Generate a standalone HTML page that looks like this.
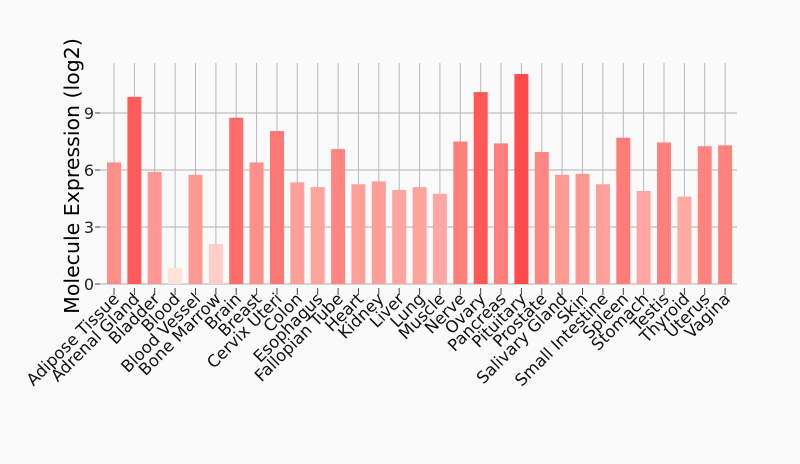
<!DOCTYPE html>
<html><head><meta charset="utf-8"><style>
html,body{margin:0;padding:0;background:#fafafa;}
svg{display:block;font-family:"DejaVu Sans","Liberation Sans",sans-serif;}
.tl{font-size:16px;fill:#222;text-anchor:end;}
.xl{font-size:16.5px;fill:#111;text-anchor:end;}
</style></head><body>
<svg width="800" height="464" viewBox="0 0 800 464" xmlns="http://www.w3.org/2000/svg">
<rect width="800" height="464" fill="#fafafa"/>
<g stroke="#b0b0b0" stroke-width="1">
<line x1="100" x2="737" y1="284" y2="284"/><line x1="100" x2="737" y1="227" y2="227"/><line x1="100" x2="737" y1="170" y2="170"/><line x1="100" x2="737" y1="113" y2="113"/>
</g>
<g stroke="#444" stroke-width="1">
<line x1="95" x2="100" y1="284" y2="284"/><line x1="95" x2="100" y1="227" y2="227"/><line x1="95" x2="100" y1="170" y2="170"/><line x1="95" x2="100" y1="113" y2="113"/>
</g>
<g stroke="#b8b8b8" stroke-width="1">
<line x1="114" x2="114" y1="63" y2="284"/><line x1="134.4" x2="134.4" y1="63" y2="284"/><line x1="154.7" x2="154.7" y1="63" y2="284"/><line x1="175.1" x2="175.1" y1="63" y2="284"/><line x1="195.5" x2="195.5" y1="63" y2="284"/><line x1="215.9" x2="215.9" y1="63" y2="284"/><line x1="236.2" x2="236.2" y1="63" y2="284"/><line x1="256.6" x2="256.6" y1="63" y2="284"/><line x1="277" x2="277" y1="63" y2="284"/><line x1="297.3" x2="297.3" y1="63" y2="284"/><line x1="317.7" x2="317.7" y1="63" y2="284"/><line x1="338.1" x2="338.1" y1="63" y2="284"/><line x1="358.4" x2="358.4" y1="63" y2="284"/><line x1="378.8" x2="378.8" y1="63" y2="284"/><line x1="399.2" x2="399.2" y1="63" y2="284"/><line x1="419.6" x2="419.6" y1="63" y2="284"/><line x1="439.9" x2="439.9" y1="63" y2="284"/><line x1="460.3" x2="460.3" y1="63" y2="284"/><line x1="480.7" x2="480.7" y1="63" y2="284"/><line x1="501" x2="501" y1="63" y2="284"/><line x1="521.4" x2="521.4" y1="63" y2="284"/><line x1="541.8" x2="541.8" y1="63" y2="284"/><line x1="562.1" x2="562.1" y1="63" y2="284"/><line x1="582.5" x2="582.5" y1="63" y2="284"/><line x1="602.9" x2="602.9" y1="63" y2="284"/><line x1="623.3" x2="623.3" y1="63" y2="284"/><line x1="643.6" x2="643.6" y1="63" y2="284"/><line x1="664" x2="664" y1="63" y2="284"/><line x1="684.4" x2="684.4" y1="63" y2="284"/><line x1="704.7" x2="704.7" y1="63" y2="284"/><line x1="725.1" x2="725.1" y1="63" y2="284"/>
</g>
<g stroke="#444" stroke-width="1">
<line x1="114" x2="114" y1="288" y2="295"/><line x1="134.4" x2="134.4" y1="288" y2="295"/><line x1="154.7" x2="154.7" y1="288" y2="295"/><line x1="175.1" x2="175.1" y1="288" y2="295"/><line x1="195.5" x2="195.5" y1="288" y2="295"/><line x1="215.9" x2="215.9" y1="288" y2="295"/><line x1="236.2" x2="236.2" y1="288" y2="295"/><line x1="256.6" x2="256.6" y1="288" y2="295"/><line x1="277" x2="277" y1="288" y2="295"/><line x1="297.3" x2="297.3" y1="288" y2="295"/><line x1="317.7" x2="317.7" y1="288" y2="295"/><line x1="338.1" x2="338.1" y1="288" y2="295"/><line x1="358.4" x2="358.4" y1="288" y2="295"/><line x1="378.8" x2="378.8" y1="288" y2="295"/><line x1="399.2" x2="399.2" y1="288" y2="295"/><line x1="419.6" x2="419.6" y1="288" y2="295"/><line x1="439.9" x2="439.9" y1="288" y2="295"/><line x1="460.3" x2="460.3" y1="288" y2="295"/><line x1="480.7" x2="480.7" y1="288" y2="295"/><line x1="501" x2="501" y1="288" y2="295"/><line x1="521.4" x2="521.4" y1="288" y2="295"/><line x1="541.8" x2="541.8" y1="288" y2="295"/><line x1="562.1" x2="562.1" y1="288" y2="295"/><line x1="582.5" x2="582.5" y1="288" y2="295"/><line x1="602.9" x2="602.9" y1="288" y2="295"/><line x1="623.3" x2="623.3" y1="288" y2="295"/><line x1="643.6" x2="643.6" y1="288" y2="295"/><line x1="664" x2="664" y1="288" y2="295"/><line x1="684.4" x2="684.4" y1="288" y2="295"/><line x1="704.7" x2="704.7" y1="288" y2="295"/><line x1="725.1" x2="725.1" y1="288" y2="295"/>
</g>
<rect x="107" y="162.4" width="14" height="121.6" fill="rgb(255,143,139)"/>
<rect x="127.4" y="96.85" width="14" height="187.15" fill="rgb(255,92,91)"/>
<rect x="147.7" y="171.9" width="14" height="112.1" fill="rgb(255,151,146)"/>
<rect x="168.1" y="267.85" width="14" height="16.15" fill="rgb(255,226,216)"/>
<rect x="188.5" y="174.75" width="14" height="109.25" fill="rgb(255,153,148)"/>
<rect x="208.9" y="244.1" width="14" height="39.9" fill="rgb(255,207,199)"/>
<rect x="229.2" y="117.75" width="14" height="166.25" fill="rgb(255,108,106)"/>
<rect x="249.6" y="162.4" width="14" height="121.6" fill="rgb(255,143,139)"/>
<rect x="270" y="131.05" width="14" height="152.95" fill="rgb(255,119,116)"/>
<rect x="290.3" y="182.35" width="14" height="101.65" fill="rgb(255,159,153)"/>
<rect x="310.7" y="187.1" width="14" height="96.9" fill="rgb(255,163,157)"/>
<rect x="331.1" y="149.1" width="14" height="134.9" fill="rgb(255,133,129)"/>
<rect x="351.4" y="184.25" width="14" height="99.75" fill="rgb(255,160,155)"/>
<rect x="371.8" y="181.4" width="14" height="102.6" fill="rgb(255,158,153)"/>
<rect x="392.2" y="189.95" width="14" height="94.05" fill="rgb(255,165,159)"/>
<rect x="412.6" y="187.1" width="14" height="96.9" fill="rgb(255,163,157)"/>
<rect x="432.9" y="193.75" width="14" height="90.25" fill="rgb(255,168,162)"/>
<rect x="453.3" y="141.5" width="14" height="142.5" fill="rgb(255,127,123)"/>
<rect x="473.7" y="92.1" width="14" height="191.9" fill="rgb(255,88,87)"/>
<rect x="494" y="143.4" width="14" height="140.6" fill="rgb(255,128,125)"/>
<rect x="514.4" y="74.05" width="14" height="209.95" fill="rgb(255,74,74)"/>
<rect x="534.8" y="151.95" width="14" height="132.05" fill="rgb(255,135,131)"/>
<rect x="555.1" y="174.75" width="14" height="109.25" fill="rgb(255,153,148)"/>
<rect x="575.5" y="173.8" width="14" height="110.2" fill="rgb(255,152,147)"/>
<rect x="595.9" y="184.25" width="14" height="99.75" fill="rgb(255,160,155)"/>
<rect x="616.3" y="137.7" width="14" height="146.3" fill="rgb(255,124,121)"/>
<rect x="636.6" y="190.9" width="14" height="93.1" fill="rgb(255,166,160)"/>
<rect x="657" y="142.45" width="14" height="141.55" fill="rgb(255,128,124)"/>
<rect x="677.4" y="196.6" width="14" height="87.4" fill="rgb(255,170,164)"/>
<rect x="697.7" y="146.25" width="14" height="137.75" fill="rgb(255,131,127)"/>
<rect x="718.1" y="145.3" width="14" height="138.7" fill="rgb(255,130,126)"/>
<text class="tl" x="94" y="290">0</text><text class="tl" x="94" y="233">3</text><text class="tl" x="94" y="176">6</text><text class="tl" x="94" y="119">9</text>
<text transform="translate(79,176) rotate(-90)" text-anchor="middle" style="font-size:20.5px" fill="#000">Molecule Expression (log2)</text>
<text class="xl" transform="translate(120,300) rotate(-45)">Adipose Tissue</text>
<text class="xl" transform="translate(140.4,300) rotate(-45)">Adrenal Gland</text>
<text class="xl" transform="translate(160.7,300) rotate(-45)">Bladder</text>
<text class="xl" transform="translate(181.1,300) rotate(-45)">Blood</text>
<text class="xl" transform="translate(201.5,300) rotate(-45)">Blood Vessel</text>
<text class="xl" transform="translate(221.9,300) rotate(-45)">Bone Marrow</text>
<text class="xl" transform="translate(242.2,300) rotate(-45)">Brain</text>
<text class="xl" transform="translate(262.6,300) rotate(-45)">Breast</text>
<text class="xl" transform="translate(283,300) rotate(-45)">Cervix Uteri</text>
<text class="xl" transform="translate(303.3,300) rotate(-45)">Colon</text>
<text class="xl" transform="translate(323.7,300) rotate(-45)">Esophagus</text>
<text class="xl" transform="translate(344.1,300) rotate(-45)">Fallopian Tube</text>
<text class="xl" transform="translate(364.4,300) rotate(-45)">Heart</text>
<text class="xl" transform="translate(384.8,300) rotate(-45)">Kidney</text>
<text class="xl" transform="translate(405.2,300) rotate(-45)">Liver</text>
<text class="xl" transform="translate(425.6,300) rotate(-45)">Lung</text>
<text class="xl" transform="translate(445.9,300) rotate(-45)">Muscle</text>
<text class="xl" transform="translate(466.3,300) rotate(-45)">Nerve</text>
<text class="xl" transform="translate(486.7,300) rotate(-45)">Ovary</text>
<text class="xl" transform="translate(507,300) rotate(-45)">Pancreas</text>
<text class="xl" transform="translate(527.4,300) rotate(-45)">Pituitary</text>
<text class="xl" transform="translate(547.8,300) rotate(-45)">Prostate</text>
<text class="xl" transform="translate(568.1,300) rotate(-45)">Salivary Gland</text>
<text class="xl" transform="translate(588.5,300) rotate(-45)">Skin</text>
<text class="xl" transform="translate(608.9,300) rotate(-45)">Small Intestine</text>
<text class="xl" transform="translate(629.3,300) rotate(-45)">Spleen</text>
<text class="xl" transform="translate(649.6,300) rotate(-45)">Stomach</text>
<text class="xl" transform="translate(670,300) rotate(-45)">Testis</text>
<text class="xl" transform="translate(690.4,300) rotate(-45)">Thyroid</text>
<text class="xl" transform="translate(710.7,300) rotate(-45)">Uterus</text>
<text class="xl" transform="translate(731.1,300) rotate(-45)">Vagina</text>
</svg>
</body></html>
